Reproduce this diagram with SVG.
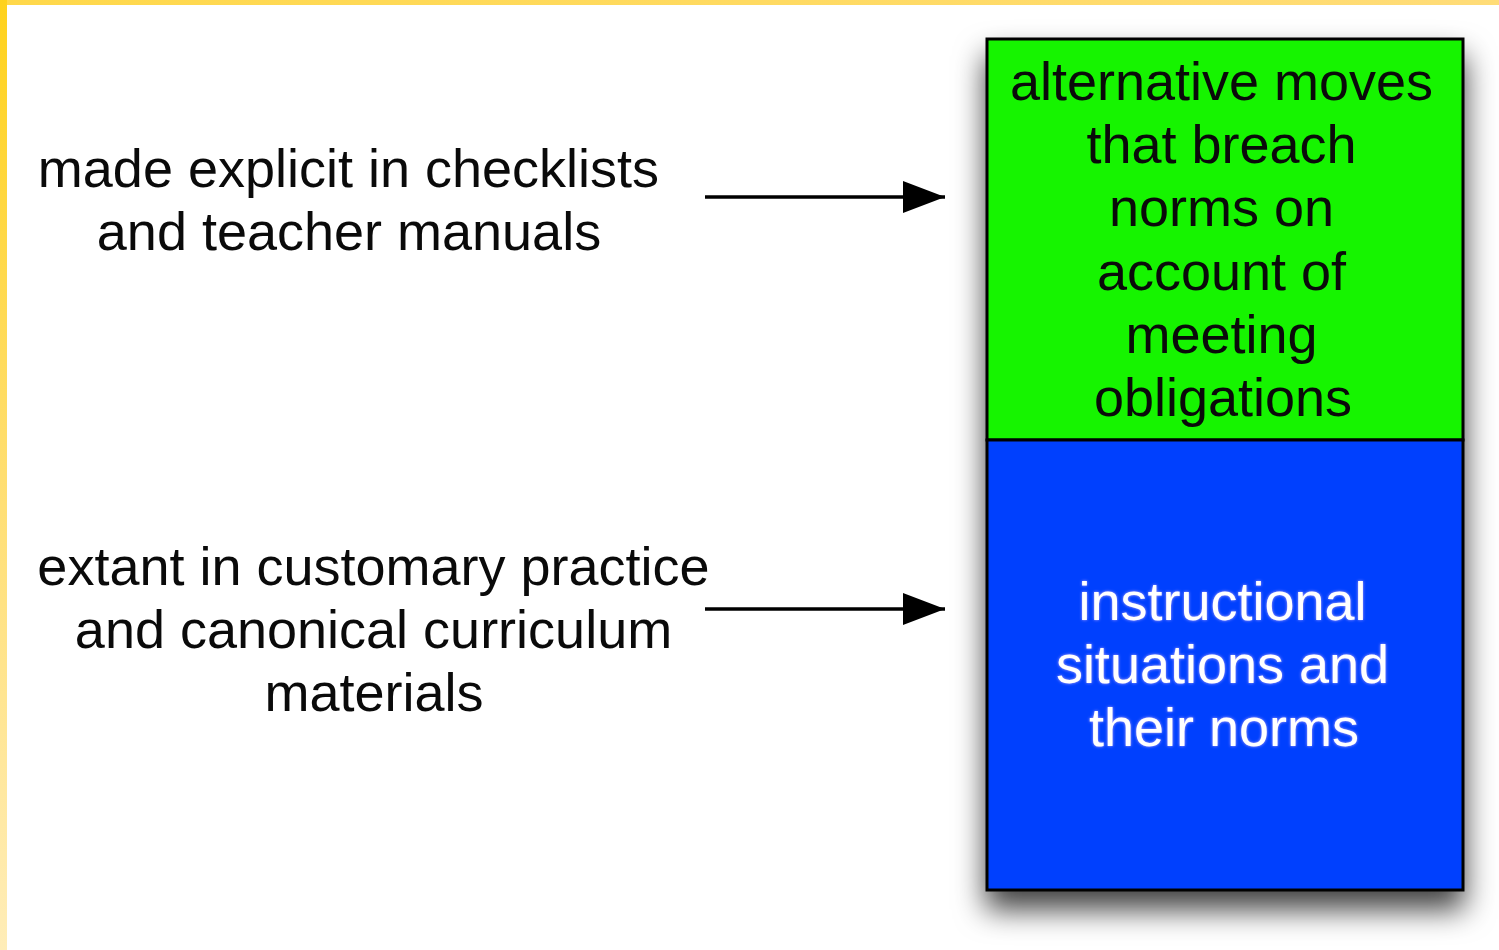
<svg xmlns="http://www.w3.org/2000/svg" width="1499" height="950" viewBox="0 0 1499 950">
  <style>
    .lbl { font-family: "Liberation Sans", Arial, Helvetica, sans-serif; font-size: 54px; fill: #0a0a0a; text-anchor: middle; }
    .white { fill: #ffffff; }
    .conn { stroke: #000; stroke-width: 3.5; fill: none; }
    .box { stroke: #000; stroke-width: 3; }
  </style>
  <defs>
    <linearGradient id="leftBar" x1="0" y1="0" x2="0" y2="1">
      <stop offset="0" stop-color="#FFD21C"/>
      <stop offset="0.5" stop-color="#FFDE70"/>
      <stop offset="1" stop-color="#FFEDB8"/>
    </linearGradient>
    <linearGradient id="topBar" x1="0" y1="0" x2="1" y2="0">
      <stop offset="0" stop-color="#FFD84A"/>
      <stop offset="1" stop-color="#FFDC78"/>
    </linearGradient>
    <filter id="shadow" x="-15%" y="-10%" width="130%" height="130%">
      <feDropShadow dx="0" dy="18" stdDeviation="15" flood-color="#000" flood-opacity="0.75"/>
    </filter>
    <filter id="glow" x="-10%" y="-20%" width="120%" height="140%">
      <feGaussianBlur in="SourceAlpha" stdDeviation="1.5" result="b"/>
      <feFlood flood-color="#ffccff" flood-opacity="0.7"/>
      <feComposite in2="b" operator="in" result="g"/>
      <feMerge><feMergeNode in="g"/><feMergeNode in="SourceGraphic"/></feMerge>
    </filter>
    <marker id="arrow" markerUnits="userSpaceOnUse" markerWidth="44" markerHeight="34" refX="42" refY="16" orient="auto">
      <path d="M0,0 L42,16 L0,32 Z" fill="#000"/>
    </marker>
  </defs>

  <rect x="0" y="0" width="1499" height="950" fill="#ffffff"/>
  <rect x="0" y="0" width="1499" height="5" fill="url(#topBar)"/>
  <rect x="0" y="0" width="7" height="950" fill="url(#leftBar)"/>

  <g id="stack" filter="url(#shadow)">
    <g id="node-alternative">
      <rect class="box" x="987" y="39" width="476" height="401" fill="#14F400"/>
    </g>
    <g id="node-instructional">
      <rect class="box" x="987" y="440" width="476" height="450" fill="#0540FE"/>
    </g>
  </g>

  <g id="node-alternative-text">
    <text class="lbl">
      <tspan x="1229" y="100">alternative moves</tspan>
      <tspan x="1229" y="163">that breach</tspan>
      <tspan x="1229" y="226">norms on</tspan>
      <tspan x="1229" y="290">account of</tspan>
      <tspan x="1229" y="353">meeting</tspan>
      <tspan x="1223" y="416">obligations</tspan>
    </text>
  </g>

  <g id="node-instructional-text" filter="url(#glow)">
    <text class="lbl white">
      <tspan x="1230" y="620">instructional</tspan>
      <tspan x="1230" y="683">situations and</tspan>
      <tspan x="1224" y="746">their norms</tspan>
    </text>
  </g>

  <g id="node-made-explicit">
    <text class="lbl">
      <tspan x="356" y="187">made explicit in checklists</tspan>
      <tspan x="349" y="250">and teacher manuals</tspan>
    </text>
  </g>

  <g id="node-extant">
    <text class="lbl">
      <tspan x="381" y="585">extant in customary practice</tspan>
      <tspan x="381" y="648">and canonical curriculum</tspan>
      <tspan x="374" y="711">materials</tspan>
    </text>
  </g>

  <g id="connectors">
    <line class="conn" x1="705" y1="197" x2="945" y2="197" marker-end="url(#arrow)"/>
    <line class="conn" x1="705" y1="609" x2="945" y2="609" marker-end="url(#arrow)"/>
  </g>
</svg>
